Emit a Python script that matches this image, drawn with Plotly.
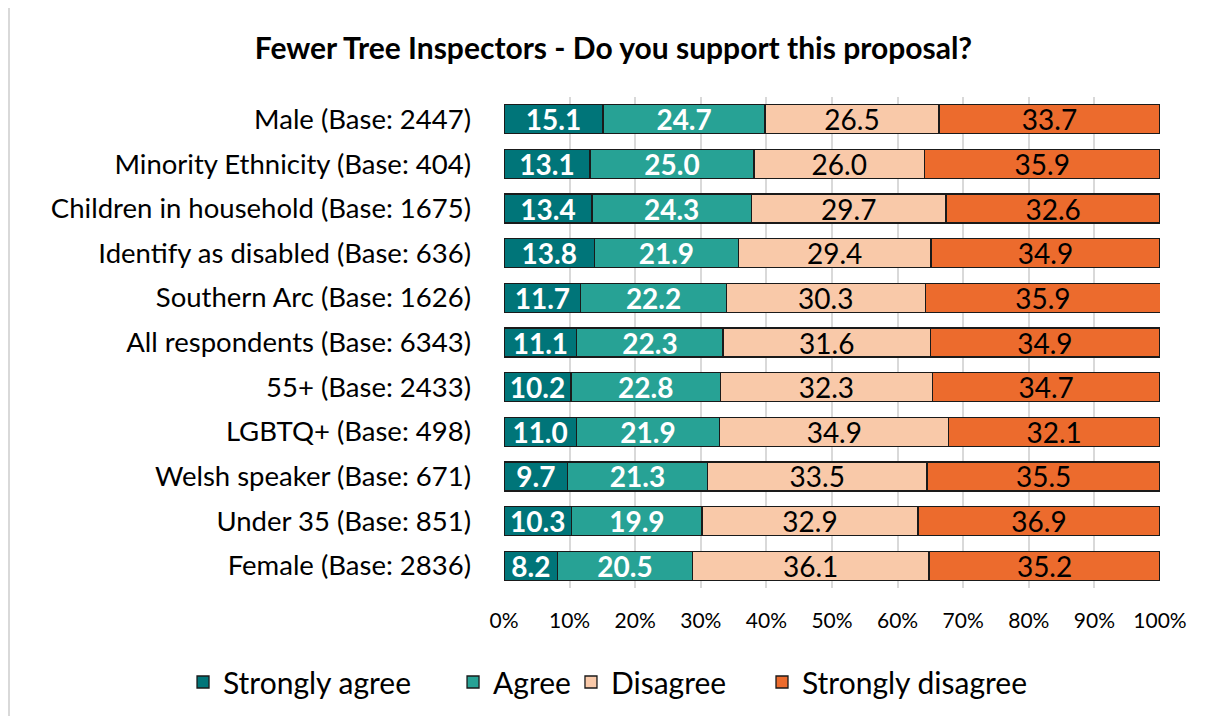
import plotly.graph_objects as go

groups = [
    "Male (Base: 2447)",
    "Minority Ethnicity (Base: 404)",
    "Children in household (Base: 1675)",
    "Identify as disabled (Base: 636)",
    "Southern Arc (Base: 1626)",
    "All respondents (Base: 6343)",
    "55+ (Base: 2433)",
    "LGBTQ+ (Base: 498)",
    "Welsh speaker (Base: 671)",
    "Under 35 (Base: 851)",
    "Female (Base: 2836)",
]

strongly_agree = [15.1, 13.1, 13.4, 13.8, 11.7, 11.1, 10.2, 11.0, 9.7, 10.3, 8.2]
agree = [24.7, 25.0, 24.3, 21.9, 22.2, 22.3, 22.8, 21.9, 21.3, 19.9, 20.5]
disagree = [26.5, 26.0, 29.7, 29.4, 30.3, 31.6, 32.3, 34.9, 33.5, 32.9, 36.1]
strongly_disagree = [33.7, 35.9, 32.6, 34.9, 35.9, 34.9, 34.7, 32.1, 35.5, 36.9, 35.2]

FONT = "Lato"

# name, values, fill, label colour, bold label, legend id, legend x (paper)
series = [
    ("Strongly agree", strongly_agree, "#007579", "white", True, "legend", -0.4893),
    ("Agree", agree, "#27a295", "white", True, "legend2", -0.0777),
    ("Disagree", disagree, "#f9c9a9", "black", False, "legend3", 0.1021),
    ("Strongly disagree", strongly_disagree, "#ec6b2d", "black", False, "legend4", 0.3933),
]

fig = go.Figure()
legends = {}
for name, vals, color, tcolor, bold, leg, lx in series:
    fig.add_trace(go.Bar(
        y=groups,
        x=[v / 100 for v in vals],
        name=name,
        orientation="h",
        legend=leg,
        showlegend=True,
        marker=dict(color=color, line=dict(color="#1a1a1a", width=1.3)),
        text=[f"{v:.1f}" for v in vals],
        textposition="inside",
        insidetextanchor="middle",
        textangle=0,
        constraintext="none",
        textfont=dict(family=FONT, size=28, color=tcolor,
                      weight="bold" if bold else "normal"),
        hoverinfo="skip",
    ))
    legends[leg] = dict(
        orientation="h",
        x=lx, xanchor="left",
        y=-0.1914, yanchor="middle",
        font=dict(family=FONT, size=30),
        bgcolor="rgba(0,0,0,0)",
    )

# page is drawn with an 8px body margin, so figure coords are page - 8
fig.update_layout(
    width=1211,
    height=716,
    barmode="stack",
    bargap=0.35,
    showlegend=True,
    paper_bgcolor="white",
    plot_bgcolor="white",
    font=dict(family=FONT, color="black"),
    margin=dict(l=496, r=59, t=89, b=136, autoexpand=False),
    title=dict(
        text="<b>Fewer Tree Inspectors - Do you support this proposal?</b>",
        x=0.5, xanchor="center", y=0.944, yanchor="middle",
        font=dict(family=FONT, size=30, color="black"),
    ),
    xaxis=dict(
        range=[0, 1],
        tickformat=".0%",
        dtick=0.1,
        showgrid=True,
        gridcolor="#d9d9d9",
        gridwidth=1.5,
        zeroline=False,
        tickfont=dict(family=FONT, size=21),
        ticklabelstandoff=18,
        automargin=False,
        fixedrange=True,
    ),
    yaxis=dict(
        categoryorder="array",
        categoryarray=groups,
        autorange="reversed",
        tickfont=dict(family=FONT, size=27.5),
        ticklabelstandoff=32,
        automargin=False,
        showgrid=False,
    ),
    shapes=[dict(
        type="rect", xref="paper", yref="paper",
        x0=-0.7546, x1=1.3, y0=-0.5, y1=1.1955,
        line=dict(color="#d9d9d9", width=2),
        fillcolor="rgba(0,0,0,0)", layer="below",
    )],
    **legends,
)

fig.write_html("out.html")
